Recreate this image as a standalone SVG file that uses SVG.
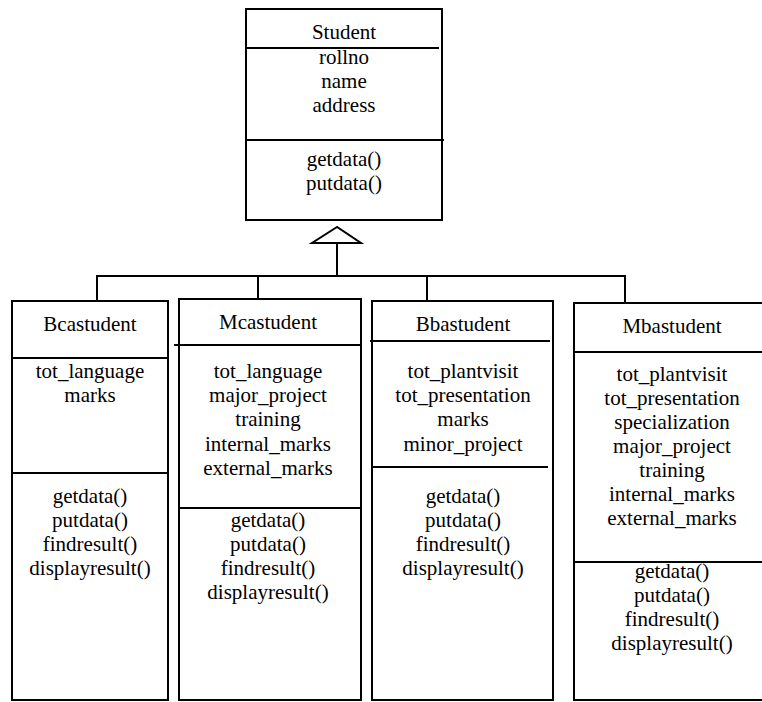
<svg xmlns="http://www.w3.org/2000/svg" width="762" height="702" viewBox="0 0 762 702" font-family="'Liberation Serif', 'DejaVu Serif', serif" font-size="21" text-anchor="middle">
  <style>
    .box { fill: #ffffff; stroke: #000000; stroke-width: 2; }
    .div { stroke: #000000; stroke-width: 2; fill: none; }
    .conn { stroke: #000000; stroke-width: 2; fill: none; }
    .t { font-family: 'Liberation Serif', 'DejaVu Serif', serif; font-size: 21px; fill: #000000; text-anchor: middle; }
  </style>

  <!-- inheritance connectors -->
  <g id="connectors">
    <polygon class="conn" points="337,227 312,243 361,243" fill="#ffffff"/>
    <line class="conn" x1="337" y1="243" x2="337" y2="276"/>
    <line class="conn" x1="96" y1="276" x2="626" y2="276"/>
    <line class="conn" x1="97" y1="276" x2="97" y2="301"/>
    <line class="conn" x1="258" y1="276" x2="258" y2="299"/>
    <line class="conn" x1="427" y1="276" x2="427" y2="301"/>
    <line class="conn" x1="625" y1="276" x2="625" y2="303"/>
  </g>

  <!-- base class -->
  <g id="student" class="t">
    <rect class="box" x="246" y="9" width="196" height="211"/>
    <line class="div" x1="246" y1="48" x2="439" y2="48"/>
    <line class="div" x1="246" y1="140" x2="444" y2="140"/>
    <text class="t" x="344" y="39">Student</text>
    <text class="t" x="344" y="64">rollno</text>
    <text class="t" x="344" y="88">name</text>
    <text class="t" x="344" y="112">address</text>
    <text class="t" x="344" y="166">getdata()</text>
    <text class="t" x="344" y="190">putdata()</text>
  </g>

  <g id="bcastudent">
    <rect class="box" x="12" y="301" width="156" height="399"/>
    <line class="div" x1="12" y1="358" x2="168" y2="358"/>
    <line class="div" x1="12" y1="473" x2="168" y2="473"/>
    <text class="t" x="90" y="331">Bcastudent</text>
    <text class="t" x="90" y="378">tot_language</text>
    <text class="t" x="90" y="402">marks</text>
    <text class="t" x="90" y="503">getdata()</text>
    <text class="t" x="90" y="527">putdata()</text>
    <text class="t" x="90" y="551">findresult()</text>
    <text class="t" x="90" y="575">displayresult()</text>
  </g>

  <g id="mcastudent">
    <rect class="box" x="179" y="299" width="182" height="401"/>
    <line class="div" x1="174" y1="345" x2="361" y2="345"/>
    <line class="div" x1="179" y1="508" x2="361" y2="508"/>
    <text class="t" x="268" y="329">Mcastudent</text>
    <text class="t" x="268" y="378">tot_language</text>
    <text class="t" x="268" y="402">major_project</text>
    <text class="t" x="268" y="426">training</text>
    <text class="t" x="268" y="451">internal_marks</text>
    <text class="t" x="268" y="475">external_marks</text>
    <text class="t" x="268" y="527">getdata()</text>
    <text class="t" x="268" y="551">putdata()</text>
    <text class="t" x="268" y="575">findresult()</text>
    <text class="t" x="268" y="599">displayresult()</text>
  </g>

  <g id="bbastudent">
    <rect class="box" x="372" y="301" width="181" height="399"/>
    <line class="div" x1="370" y1="341" x2="550" y2="341"/>
    <line class="div" x1="372" y1="467" x2="548" y2="467"/>
    <text class="t" x="463" y="331">Bbastudent</text>
    <text class="t" x="463" y="378">tot_plantvisit</text>
    <text class="t" x="463" y="402">tot_presentation</text>
    <text class="t" x="463" y="426">marks</text>
    <text class="t" x="463" y="451">minor_project</text>
    <text class="t" x="463" y="503">getdata()</text>
    <text class="t" x="463" y="527">putdata()</text>
    <text class="t" x="463" y="551">findresult()</text>
    <text class="t" x="463" y="575">displayresult()</text>
  </g>

  <g id="mbastudent">
    <rect class="box" x="574" y="303" width="190" height="397"/>
    <line class="div" x1="574" y1="352" x2="762" y2="352"/>
    <line class="div" x1="574" y1="562" x2="762" y2="562"/>
    <text class="t" x="672" y="333">Mbastudent</text>
    <text class="t" x="672" y="381">tot_plantvisit</text>
    <text class="t" x="672" y="405">tot_presentation</text>
    <text class="t" x="672" y="429">specialization</text>
    <text class="t" x="672" y="453">major_project</text>
    <text class="t" x="672" y="477">training</text>
    <text class="t" x="672" y="501">internal_marks</text>
    <text class="t" x="672" y="525">external_marks</text>
    <text class="t" x="672" y="578">getdata()</text>
    <text class="t" x="672" y="602">putdata()</text>
    <text class="t" x="672" y="626">findresult()</text>
    <text class="t" x="672" y="650">displayresult()</text>
  </g>
</svg>
